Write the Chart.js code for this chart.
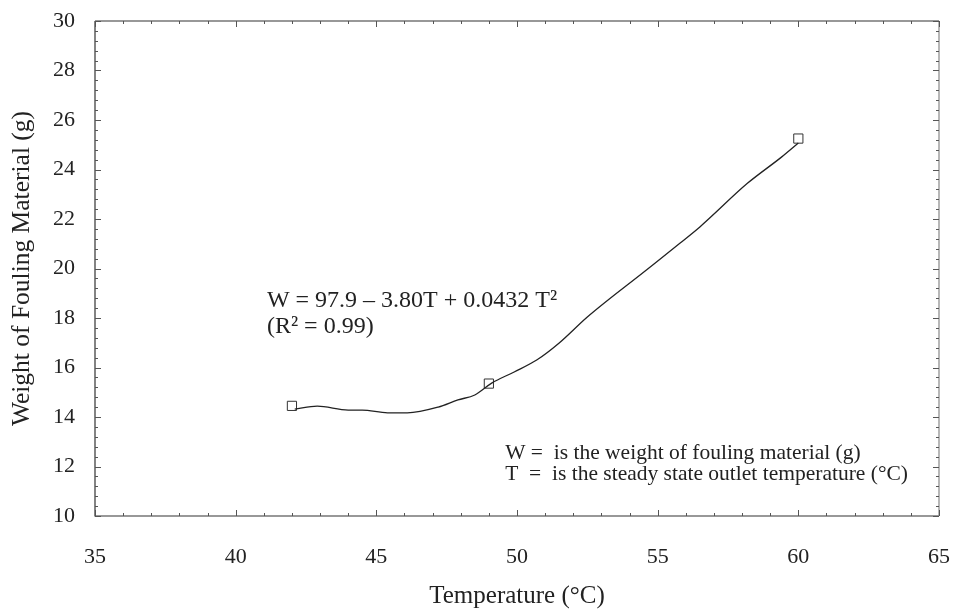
<!DOCTYPE html>
<html>
<head>
<meta charset="utf-8">
<script src="https://cdn.jsdelivr.net/npm/chart.js@4/dist/chart.umd.min.js"></script>
<style>
  html, body { margin: 0; padding: 0; background: #ffffff; }
  #wrap { width: 954px; height: 611px; }
</style>
</head>
<body>
<div id="wrap"><canvas id="c" width="954" height="611"></canvas></div>
<script>
// Measured data points (Temperature °C, Weight g)
const pointT = [42, 49, 60];
const pointW = [14.45, 15.35, 25.25];

// Drawn fitted curve
const curveT = [42.1, 42.9, 44.0, 44.5, 45.4, 46.1, 47.2, 47.9, 48.5, 49.1, 49.9, 50.7, 51.5, 52.5, 54.6, 55.8, 56.5, 58.2, 59.4, 60.0];
const curveW = [14.32, 14.44, 14.28, 14.28, 14.17, 14.17, 14.40, 14.69, 14.89, 15.37, 15.82, 16.30, 16.99, 18.04, 19.94, 21.03, 21.68, 23.45, 24.5, 25.07];

// Axis settings
const xTicks = [35, 40, 45, 50, 55, 60, 65];
const yTicks = [10, 12, 14, 16, 18, 20, 22, 24, 26, 28, 30];
const xMinorStep = 1;
const yMinorStep = 0.4;

const xTitle = 'Temperature (°C)';
const yTitle = 'Weight of Fouling Material (g)';
const eqLines = ['W = 97.9 – 3.80T + 0.0432 T²', '(R² = 0.99)'];
const noteLines = ['W =  is the weight of fouling material (g)', 'T  =  is the steady state outlet temperature (°C)'];

const FONT = "'Liberation Serif', 'Times New Roman', serif";
const INK = '#222222';

const frameTicks = {
  id: 'frameTicks',
  afterDatasetsDraw(chart) {
    const ctx = chart.ctx;
    const a = chart.chartArea;
    const xs = chart.scales.x, ys = chart.scales.y;
    ctx.save();
    ctx.lineWidth = 1.2;
    ctx.strokeStyle = '#333333';
    ctx.beginPath();
    ctx.moveTo(a.left, a.top); ctx.lineTo(a.left, a.bottom); ctx.lineTo(a.right, a.bottom);
    ctx.moveTo(a.left, a.top); ctx.lineTo(a.right, a.top);
    ctx.stroke();
    ctx.strokeStyle = '#888888';
    ctx.beginPath();
    ctx.moveTo(a.right, a.top); ctx.lineTo(a.right, a.bottom);
    ctx.stroke();
    ctx.lineWidth = 1;
    ctx.strokeStyle = '#555555';
    ctx.beginPath();
    const xMin = xTicks[0], xMax = xTicks[xTicks.length - 1];
    for (let v = xMin; v <= xMax + 1e-6; v += xMinorStep) {
      const major = Math.abs((v - xMin) / 5 - Math.round((v - xMin) / 5)) < 1e-6;
      const len = major ? 6 : 3;
      const px = Math.round(xs.getPixelForValue(v)) + 0.5;
      ctx.moveTo(px, a.bottom); ctx.lineTo(px, a.bottom - len);
      ctx.moveTo(px, a.top); ctx.lineTo(px, a.top + len);
    }
    const yMin = yTicks[0], yMax = yTicks[yTicks.length - 1];
    for (let i = 0; ; i++) {
      const v = yMin + i * yMinorStep;
      if (v > yMax + 1e-6) break;
      const major = i % 5 === 0;
      const len = major ? 6 : 3;
      const py = Math.round(ys.getPixelForValue(v)) + 0.5;
      ctx.moveTo(a.left, py); ctx.lineTo(a.left + len, py);
      ctx.moveTo(a.right, py); ctx.lineTo(a.right - len, py);
    }
    ctx.stroke();

    // Annotations
    ctx.fillStyle = INK;
    ctx.textAlign = 'left';
    ctx.textBaseline = 'alphabetic';
    ctx.font = '24px ' + FONT;
    const ex = xs.getPixelForValue(41.11);
    ctx.fillText(eqLines[0], ex, ys.getPixelForValue(18.44));
    ctx.fillText(eqLines[1], ex, ys.getPixelForValue(17.39));
    ctx.font = '21.5px ' + FONT;
    const nx = xs.getPixelForValue(49.58);
    ctx.fillText(noteLines[0], nx, ys.getPixelForValue(12.30));
    ctx.fillText(noteLines[1], nx, ys.getPixelForValue(11.45));
    ctx.restore();
  }
};

new Chart(document.getElementById('c'), {
  type: 'scatter',
  data: {
    datasets: [
      {
        label: 'fit',
        data: curveT.map((t, i) => ({ x: t, y: curveW[i] })),
        showLine: true,
        borderColor: INK,
        borderWidth: 1.3,
        pointRadius: 0,
        tension: 0.4,
        cubicInterpolationMode: 'monotone',
        fill: false
      },
      {
        label: 'data',
        data: pointT.map((t, i) => ({ x: t, y: pointW[i] })),
        showLine: false,
        pointStyle: 'rect',
        pointRadius: 6.5,
        pointBorderWidth: 1,
        pointBorderColor: '#333333',
        pointBackgroundColor: 'rgba(0,0,0,0)'
      }
    ]
  },
  options: {
    responsive: false,
    animation: false,
    devicePixelRatio: 1,
    layout: { padding: { top: 21, right: 15, left: 0, bottom: 0 } },
    plugins: { legend: { display: false }, tooltip: { enabled: false } },
    scales: {
      x: {
        type: 'linear',
        min: xTicks[0], max: xTicks[xTicks.length - 1],
        afterBuildTicks: (s) => { s.ticks = xTicks.map(v => ({ value: v })); },
        afterFit: (s) => { s.height = 95; s.paddingLeft = 0; s.paddingRight = 0; },
        grid: { display: false, drawTicks: false },
        border: { display: false },
        ticks: { color: INK, font: { family: FONT, size: 22 }, padding: 28, maxRotation: 0 },
        title: { display: true, text: xTitle, color: INK, font: { family: FONT, size: 25 }, padding: { top: 0, bottom: 0 } }
      },
      y: {
        type: 'linear',
        min: yTicks[0], max: yTicks[yTicks.length - 1],
        afterBuildTicks: (s) => { s.ticks = yTicks.map(v => ({ value: v })); },
        afterFit: (s) => { s.width = 95; s.paddingTop = 0; s.paddingBottom = 0; },
        grid: { display: false, drawTicks: false },
        border: { display: false },
        ticks: { color: INK, font: { family: FONT, size: 22 }, padding: 20 },
        title: { display: true, text: yTitle, color: INK, font: { family: FONT, size: 25.5 }, padding: { top: 7, bottom: 0 } }
      }
    }
  },
  plugins: [frameTicks]
});
</script>
</body>
</html>
